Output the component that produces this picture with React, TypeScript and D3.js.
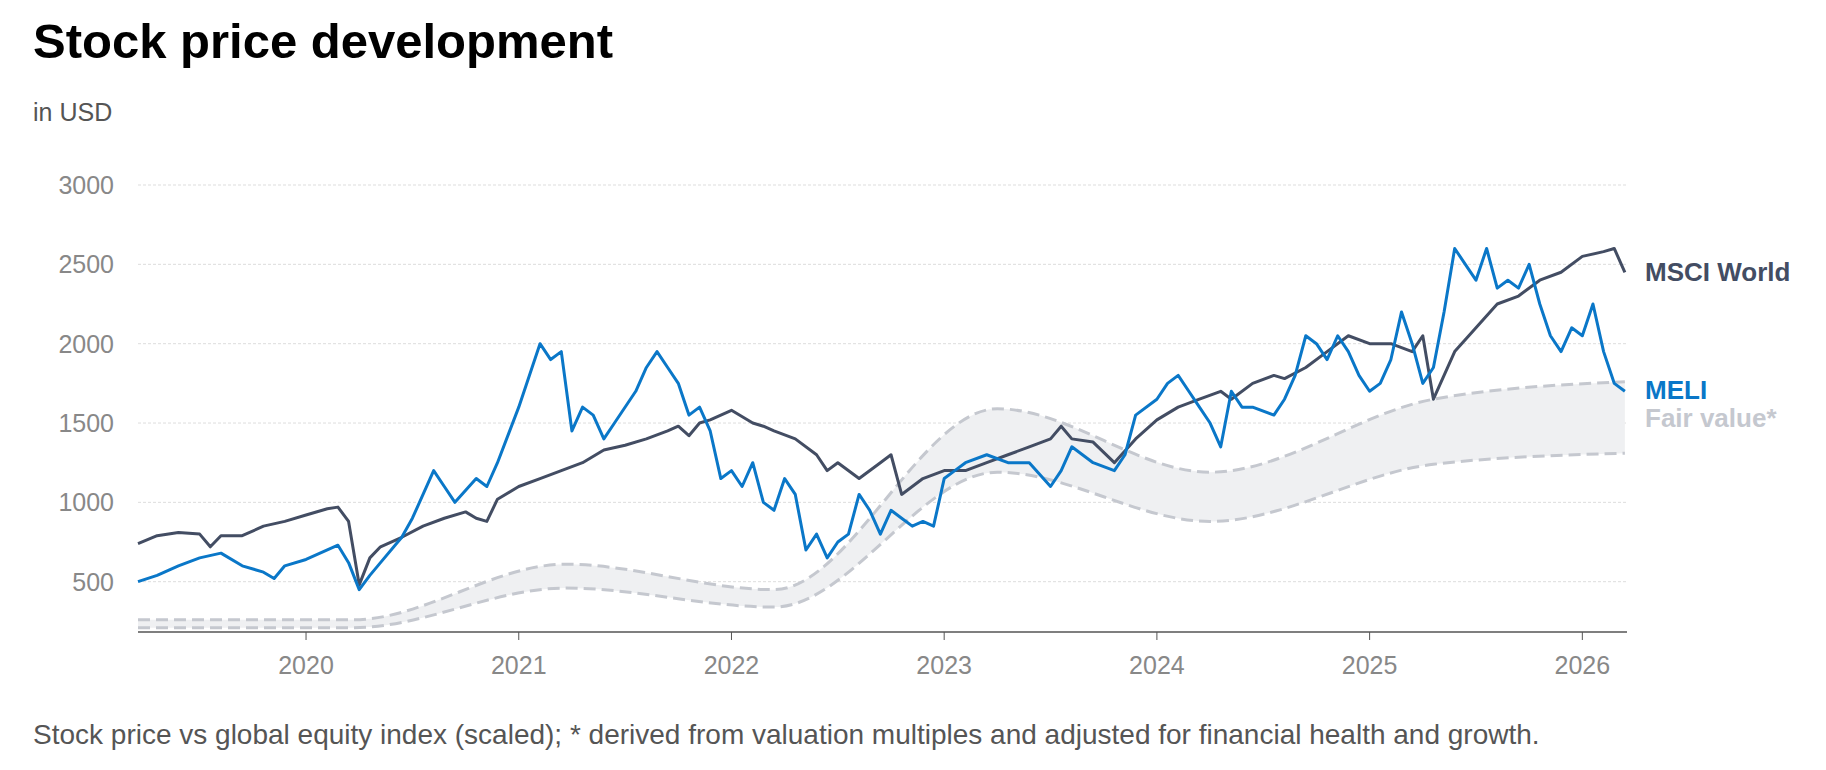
import * as d3 from 'd3'

// decimal years
const meliT = [2019.21, 2019.3, 2019.4, 2019.5, 2019.6, 2019.7, 2019.8, 2019.85, 2019.9, 2020.0, 2020.1, 2020.15, 2020.2, 2020.25, 2020.3, 2020.35, 2020.45, 2020.5, 2020.6, 2020.65, 2020.7, 2020.8, 2020.85, 2020.9, 2021.0, 2021.05, 2021.1, 2021.15, 2021.2, 2021.25, 2021.3, 2021.35, 2021.4, 2021.45, 2021.55, 2021.6, 2021.65, 2021.7, 2021.75, 2021.8, 2021.85, 2021.9, 2021.95, 2022.0, 2022.05, 2022.1, 2022.15, 2022.2, 2022.25, 2022.3, 2022.35, 2022.4, 2022.45, 2022.5, 2022.55, 2022.6, 2022.65, 2022.7, 2022.75, 2022.8, 2022.85, 2022.9, 2022.95, 2023.0, 2023.05, 2023.1, 2023.2, 2023.3, 2023.4, 2023.5, 2023.55, 2023.6, 2023.65, 2023.7, 2023.8, 2023.85, 2023.9, 2024.0, 2024.05, 2024.1, 2024.15, 2024.2, 2024.25, 2024.3, 2024.35, 2024.4, 2024.45, 2024.55, 2024.6, 2024.65, 2024.7, 2024.75, 2024.8, 2024.85, 2024.9, 2024.95, 2025.0, 2025.05, 2025.1, 2025.15, 2025.2, 2025.25, 2025.3, 2025.35, 2025.4, 2025.45, 2025.5, 2025.55, 2025.6, 2025.65, 2025.7, 2025.75, 2025.8, 2025.85, 2025.9, 2025.95, 2026.0, 2026.05, 2026.1, 2026.15, 2026.2]
const meliV = [500, 540, 600, 650, 680, 600, 560, 520, 600, 640, 700, 730, 620, 450, 540, 620, 780, 900, 1200, 1100, 1000, 1150, 1100, 1250, 1600, 1800, 2000, 1900, 1950, 1450, 1600, 1550, 1400, 1500, 1700, 1850, 1950, 1850, 1750, 1550, 1600, 1450, 1150, 1200, 1100, 1250, 1000, 950, 1150, 1050, 700, 800, 650, 750, 800, 1050, 950, 800, 950, 900, 850, 880, 850, 1150, 1200, 1250, 1300, 1250, 1250, 1100, 1200, 1350, 1300, 1250, 1200, 1300, 1550, 1650, 1750, 1800, 1700, 1600, 1500, 1350, 1700, 1600, 1600, 1550, 1650, 1800, 2050, 2000, 1900, 2050, 1950, 1800, 1700, 1750, 1900, 2200, 2000, 1750, 1850, 2200, 2600, 2500, 2400, 2600, 2350, 2400, 2350, 2500, 2250, 2050, 1950, 2100, 2050, 2250, 1950, 1750, 1700]

const msciT = [2019.21, 2019.3, 2019.4, 2019.5, 2019.55, 2019.6, 2019.7, 2019.8, 2019.9, 2020.0, 2020.1, 2020.15, 2020.2, 2020.25, 2020.3, 2020.35, 2020.45, 2020.55, 2020.65, 2020.75, 2020.8, 2020.85, 2020.9, 2021.0, 2021.1, 2021.2, 2021.3, 2021.4, 2021.5, 2021.6, 2021.7, 2021.75, 2021.8, 2021.85, 2021.9, 2022.0, 2022.1, 2022.15, 2022.2, 2022.3, 2022.4, 2022.45, 2022.5, 2022.6, 2022.7, 2022.75, 2022.8, 2022.9, 2023.0, 2023.1, 2023.2, 2023.3, 2023.4, 2023.5, 2023.55, 2023.6, 2023.7, 2023.8, 2023.9, 2024.0, 2024.1, 2024.2, 2024.3, 2024.35, 2024.45, 2024.55, 2024.6, 2024.7, 2024.8, 2024.9, 2025.0, 2025.1, 2025.2, 2025.25, 2025.3, 2025.4, 2025.5, 2025.6, 2025.7, 2025.8, 2025.9, 2026.0, 2026.1, 2026.15, 2026.2]
const msciV = [740, 790, 810, 800, 720, 790, 790, 850, 880, 920, 960, 970, 880, 480, 650, 720, 780, 850, 900, 940, 900, 880, 1020, 1100, 1150, 1200, 1250, 1330, 1360, 1400, 1450, 1480, 1420, 1500, 1520, 1580, 1500, 1480, 1450, 1400, 1300, 1200, 1250, 1150, 1250, 1300, 1050, 1150, 1200, 1200, 1250, 1300, 1350, 1400, 1480, 1400, 1380, 1250, 1400, 1520, 1600, 1650, 1700, 1650, 1750, 1800, 1780, 1850, 1950, 2050, 2000, 2000, 1950, 2050, 1650, 1950, 2100, 2250, 2300, 2400, 2450, 2550, 2580, 2600, 2450]

const fairT = [2019.21, 2020.22, 2021.22, 2022.2, 2023.25, 2024.25, 2025.3, 2026.2]
const fairHi = [260, 260, 610, 450, 1590, 1190, 1650, 1760]
const fairLo = [210, 210, 460, 340, 1190, 880, 1240, 1310]

const yTicks = [500, 1000, 1500, 2000, 2500, 3000]
const xTicks = [2020, 2021, 2022, 2023, 2024, 2025, 2026]

interface Pt { t: number; v: number }
const zip = (t: number[], v: number[]): Pt[] => t.map((d, i) => ({ t: d, v: v[i] }))

const W = 1826
const H = 770
const left = 138
const right = 1627
const top = 185
const bottom = 632
const font = 'Liberation Sans, Arial, sans-serif'

export default function App() {
  const x = d3.scaleLinear().domain([2019.21, 2026.21]).range([left, right])
  const y = d3.scaleLinear().domain([183, 3000]).range([bottom, top])

  const smoothLine = d3
    .line<Pt>()
    .x((d) => x(d.t))
    .y((d) => y(d.v))
    .curve(d3.curveMonotoneX)
  const band = d3
    .area<number>()
    .x((_, i) => x(fairT[i]))
    .y0((_, i) => y(fairLo[i]))
    .y1((d) => y(d))
    .curve(d3.curveMonotoneX)
  const plain = d3
    .line<Pt>()
    .x((d) => x(d.t))
    .y((d) => y(d.v))

  const meli = zip(meliT, meliV)
  const msci = zip(msciT, msciV)

  return (
    <svg width={W} height={H} style={{ position: 'absolute', left: 0, top: 0, fontFamily: font }}>
      <rect width={W} height={H} fill="#fff" />
      <text x={33} y={58} fontSize={49} fontWeight="bold" fill="#000">Stock price development</text>
      <text x={33} y={121} fontSize={25} fill="#555">in USD</text>
      {yTicks.map((t) => (
        <g key={t}>
          <line x1={left} x2={right} y1={y(t)} y2={y(t)} stroke="#ddd" strokeDasharray="3,2" />
          <text x={114} y={y(t) + 9} fontSize={25} fill="#888" textAnchor="end">{t}</text>
        </g>
      ))}
      <path d={band(fairHi) ?? ''} fill="#eff0f2" />
      <path d={smoothLine(zip(fairT, fairHi)) ?? ''} fill="none" stroke="#c5c8cf" strokeWidth={3} strokeDasharray="12,6" />
      <path d={smoothLine(zip(fairT, fairLo)) ?? ''} fill="none" stroke="#c5c8cf" strokeWidth={3} strokeDasharray="12,6" />
      <path d={plain(msci) ?? ''} fill="none" stroke="#434d63" strokeWidth={3} strokeLinejoin="round" />
      <path d={plain(meli) ?? ''} fill="none" stroke="#0a77c8" strokeWidth={3} strokeLinejoin="round" />
      <line x1={left} x2={right} y1={bottom} y2={bottom} stroke="#555" strokeWidth={1.5} />
      {xTicks.map((t) => (
        <g key={t}>
          <line x1={x(t)} x2={x(t)} y1={bottom} y2={bottom + 8} stroke="#555" />
          <text x={x(t)} y={bottom + 42} fontSize={25} fill="#888" textAnchor="middle">{t}</text>
        </g>
      ))}
      <text x={1645} y={281} fontSize={26} fontWeight="bold" fill="#434d63">MSCI World</text>
      <text x={1645} y={399} fontSize={26} fontWeight="bold" fill="#0a77c8">MELI</text>
      <text x={1645} y={427} fontSize={26} fontWeight="bold" fill="#c5c8cf">Fair value*</text>
      <text x={33} y={744} fontSize={28} fill="#555">
        Stock price vs global equity index (scaled); * derived from valuation multiples and adjusted for financial health and growth.
      </text>
    </svg>
  )
}
